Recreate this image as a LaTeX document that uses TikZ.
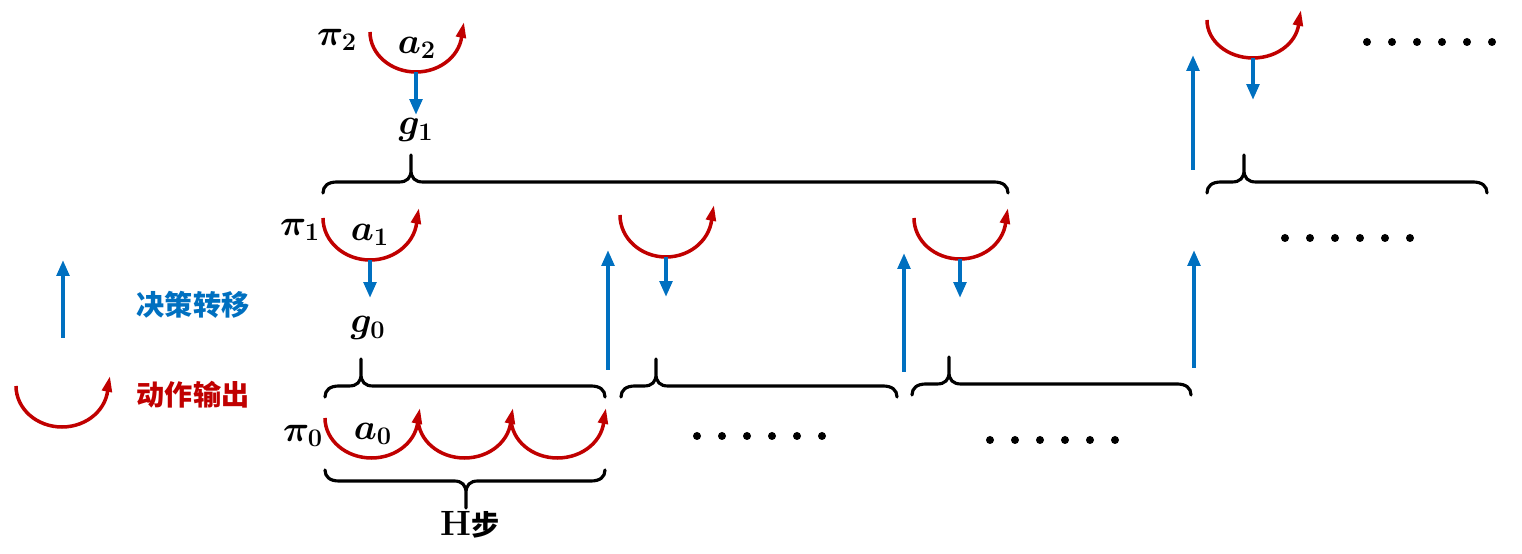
\documentclass[tikz,border=0pt]{standalone}
\usepackage{fontspec}
\newfontfamily\cjk{Noto Sans CJK SC}
\usepackage{bm}
\usepackage{xcolor}
\definecolor{transBlue}{RGB}{0, 112, 192}
\definecolor{actRed}{RGB}{192, 0, 0}
\usepackage{tikz}
\usetikzlibrary{arrows.meta}

\begin{document}
\begin{tikzpicture}[x=0.02cm, y=0.02cm,
  act/.style={actRed, line width=2pt, -{Triangle[length=9pt,width=5.5pt]}},
  trans/.style={transBlue, line width=2.3pt, -{Triangle[length=9pt,width=7pt]}},
  brc/.style={line width=1.8pt, line cap=round},
  lbl/.style={font=\fontsize{20}{22}\selectfont, inner sep=1pt},
  cn/.style={font=\fontsize{16}{18}\selectfont\cjk\bfseries, inner sep=1pt},
  dotfill/.style={fill=black},
]
  \useasboundingbox (0,0) rectangle (1522,554);

  % Legend
  \coordinate (legS) at (63,216);
  \coordinate (legE) at (63,294);
  \draw[trans] (legS) -- (legE);
  \node[cn, transBlue] (legtrans) at (193,249) {决策转移};
  \draw[act] (16,168) arc[start angle=180, end angle=360, x radius=46, y radius=41] -- ++(2,10);
  \node[cn, actRed] (legact) at (193,159) {动作输出};

  % Level 2
  \node[lbl] (pi2) at (337,514) {$\bm{\pi}_{\bm 2}$};
  \draw[act] (370,522) arc[start angle=180, end angle=270, x radius=46, y radius=40] coordinate (a2b)
                       arc[start angle=270, end angle=360, x radius=46, y radius=40] -- ++(2,10);
  \node[lbl] (a2) at (417,506) {$\bm{a}_{\bm 2}$};
  \coordinate (g1t) at (416,439);
  \draw[trans] (a2b) -- (g1t);
  \node[lbl] (g1) at (416,424) {$\bm{g}_{\bm 1}$};

  \draw[act] (1207,534) arc[start angle=180, end angle=270, x radius=46, y radius=38] coordinate (a2rb)
                        arc[start angle=270, end angle=360, x radius=46, y radius=38] -- ++(2,10);
  \coordinate (a2rt) at (1253,454);
  \draw[trans] (a2rb) -- (a2rt);

  % Level 1
  \node[lbl] (pi1) at (300,324) {$\bm{\pi}_{\bm 1}$};
  \draw[act] (323,336) arc[start angle=180, end angle=270, x radius=47, y radius=42] coordinate (a1b)
                       arc[start angle=270, end angle=360, x radius=47, y radius=42] -- ++(2,10);
  \node[lbl] (a1) at (370,319) {$\bm{a}_{\bm 1}$};
  \coordinate (g0t) at (370,256);
  \draw[trans] (a1b) -- (g0t);
  \node[lbl] (g0) at (368,226) {$\bm{g}_{\bm 0}$};

  \draw[act] (620,339) arc[start angle=180, end angle=270, x radius=46, y radius=42] coordinate (b1b)
                       arc[start angle=270, end angle=360, x radius=46, y radius=42] -- ++(2,10);
  \coordinate (b1t) at (666,257);
  \draw[trans] (b1b) -- (b1t);

  \draw[act] (914,336) arc[start angle=180, end angle=270, x radius=46, y radius=41] coordinate (c1b)
                       arc[start angle=270, end angle=360, x radius=46, y radius=41] -- ++(2,10);
  \coordinate (c1t) at (960,256);
  \draw[trans] (c1b) -- (c1t);

  % Level 0
  \node[lbl] (pi0) at (303,118) {$\bm{\pi}_{\bm 0}$};
  \foreach \x in {325,418,511} {
    \draw[act] (\x,136) arc[start angle=180, end angle=360, x radius=46.5, y radius=40] -- ++(2,10);
  }
  \node[lbl] (a0) at (373,120) {$\bm{a}_{\bm 0}$};
  \node[cn] (hstep) at (470,29) {{\fontsize{20}{22}\selectfont\rmfamily\bfseries H}步};

  % Transitions upward
  \coordinate (u1s) at (608,184);  \coordinate (u1e) at (608,304);
  \coordinate (u2s) at (904,182);  \coordinate (u2e) at (904,301);
  \coordinate (u3s) at (1194,186); \coordinate (u3e) at (1194,304);
  \coordinate (u4s) at (1193,384); \coordinate (u4e) at (1193,499);
  \draw[trans] (u1s) -- (u1e);
  \draw[trans] (u2s) -- (u2e);
  \draw[trans] (u3s) -- (u3e);
  \draw[trans] (u4s) -- (u4e);

  % Braces
  \foreach \l/\c/\r/\y/\d in {323/411/1008/361/1, 325/361/605/157/1, 621/656/897/157/1,
                              912/949/1191/159/1, 1207/1244/1487/361/1, 325/466/605/84/-1} {
    \draw[brc] (\l,\y) .. controls (\l,\y+7*\d) and (\l+5,\y+11*\d) .. (\l+14,\y+11*\d)
      -- (\c-12,\y+11*\d) .. controls (\c-4,\y+11*\d) and (\c,\y+15*\d) .. (\c,\y+23*\d)
      -- (\c,\y+38*\d)
      (\c,\y+23*\d) .. controls (\c,\y+15*\d) and (\c+4,\y+11*\d) .. (\c+12,\y+11*\d)
      -- (\r-14,\y+11*\d) .. controls (\r-5,\y+11*\d) and (\r,\y+7*\d) .. (\r,\y);
  }

  % Continuation dots
  \foreach \x/\y in {697/118, 990/114, 1285/316, 1367/512} {
    \foreach \k in {0,...,5} {
      \fill[dotfill] (\x+25*\k,\y) circle[radius=4];
    }
  }
\end{tikzpicture}
\end{document}
